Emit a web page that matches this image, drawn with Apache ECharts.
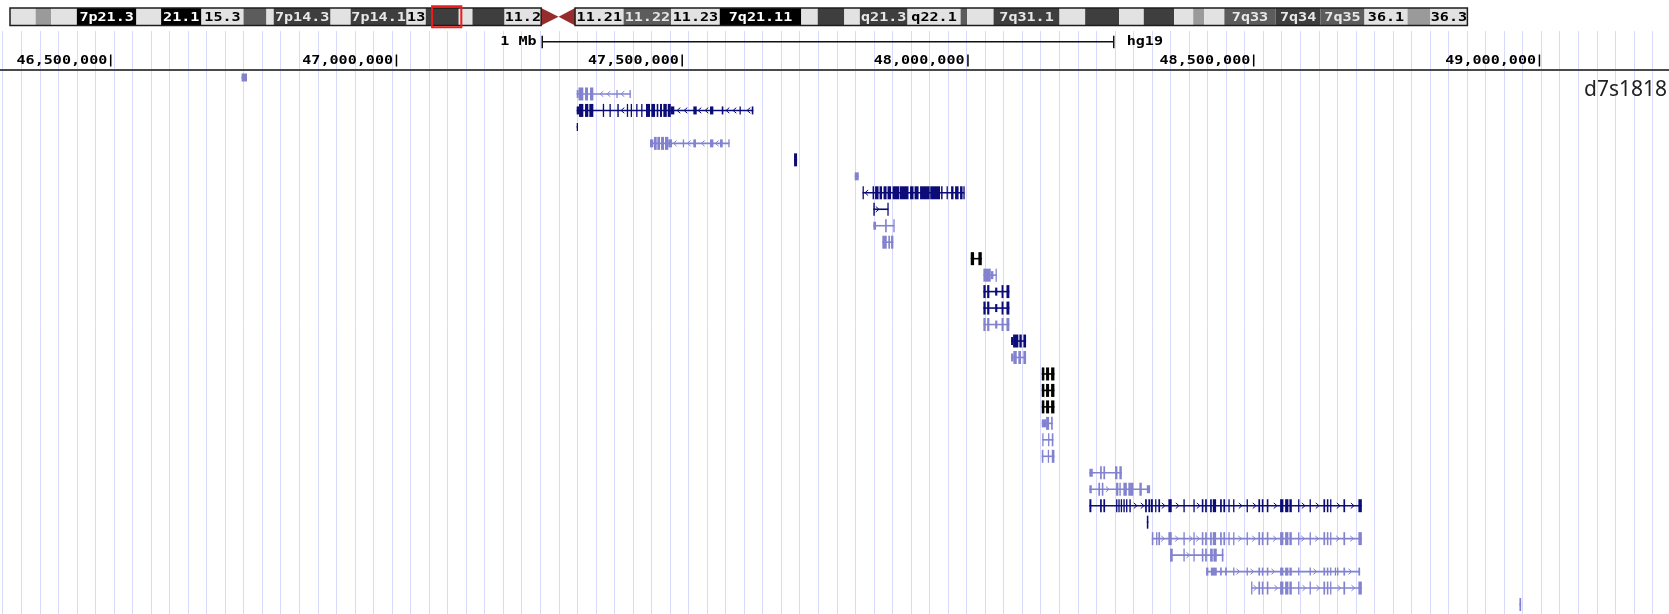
<!DOCTYPE html>
<html>
<head>
<meta charset="utf-8">
<title>chr7 p12.3 – d7s1818</title>
<script src="https://cdn.jsdelivr.net/npm/echarts@6/dist/echarts.min.js"></script>
<style>
  html, body { margin: 0; padding: 0; background: #ffffff; }
  #chart { width: 1669px; height: 614px; }
</style>
</head>
<body>
<div id="chart"></div>
<script>
// ---- View window (chr7, hg19) ----
const VIEW_START = 46306300;
const VIEW_END = 49226700;
const CHROM_LEN = 159138663;

// ---- Base-position ruler ----
const rulerTicks = [46500000, 47000000, 47500000, 48000000, 48500000, 49000000];
const scaleBar = [47255000, 48255000];
const scaleBarLabel = '1 Mb';
const assemblyLabel = 'hg19';
const GUIDE_START = 46311025;
const GUIDE_STEP = 32434;

// ---- Chromosome 7 cytobands (Mb) ----
const bandNames = ['p22.3','p22.2','p22.1','p21.3','p21.2','p21.1','p15.3','p15.2','p15.1','p14.3','p14.2','p14.1','p13','p12.3','p12.2','p12.1','p11.2','p11.1',
  'q11.1','q11.21','q11.22','q11.23','q21.11','q21.12','q21.13','q21.2','q21.3','q22.1','q22.2','q22.3','q31.1','q31.2','q31.31','q31.32','q31.33','q32.1','q32.2','q32.3','q33','q34','q35','q36.1','q36.2','q36.3'];
const bandStarts = [0, 2.8, 4.5, 7.3, 13.8, 16.5, 20.9, 25.5, 28.0, 28.8, 35.0, 37.2, 43.3, 45.4, 49.0, 50.5, 54.0, 58.0,
  59.9, 61.7, 67.0, 72.2, 77.5, 86.4, 88.2, 91.1, 92.8, 98.0, 103.8, 104.5, 107.4, 114.6, 117.4, 121.1, 123.8, 127.1, 129.2, 130.4, 132.6, 138.2, 143.1, 147.9, 152.6, 155.1];
const bandEnds = [2.8, 4.5, 7.3, 13.8, 16.5, 20.9, 25.5, 28.0, 28.8, 35.0, 37.2, 43.3, 45.4, 49.0, 50.5, 54.0, 58.0, 59.9,
  61.7, 67.0, 72.2, 77.5, 86.4, 88.2, 91.1, 92.8, 98.0, 103.8, 104.5, 107.4, 114.6, 117.4, 121.1, 123.8, 127.1, 129.2, 130.4, 132.6, 138.2, 143.1, 147.9, 152.6, 155.1, 159.138663];
const bandStains = ['gneg','gpos25','gneg','gpos100','gneg','gpos100','gneg','gpos50','gneg','gpos75','gneg','gpos75','gneg','gpos75','gneg','gpos75','gneg','acen',
  'acen','gneg','gpos50','gneg','gpos100','gneg','gpos75','gneg','gpos75','gneg','gpos50','gneg','gpos75','gneg','gpos75','gneg','gpos75','gneg','gpos25','gneg','gpos50','gpos75','gpos50','gneg','gpos25','gneg'];
const bandLabels = ['','','','7p21.3','','21.1','15.3','','','7p14.3','','7p14.1','13','','','','11.2','',
  '','11.21','11.22','11.23','7q21.11','','','','q21.3','q22.1','','','7q31.1','','','','','','','','7q33','7q34','7q35','36.1','','36.3'];

// ---- Gene models: exons as [start kb, end kb, coding(1)/untranslated(0)] ----
const smallA = [[46729.0, 46738.5, 0]];
const tns3Alt = [[47315.4,47318.6,0],[47318.6,47327.0,1],[47330.0,47335.2,1],[47338.7,47344.5,1],[47384.8,47386.5,0],[47407.8,47409.9,0]];
const tns3 = [[47315.4,47319.5,0],[47319.5,47327.0,1],[47330.0,47335.7,1],[47337.5,47344.5,1],[47361.1,47362.9,1],[47372.8,47374.6,1],
  [47386.5,47389.0,1],[47403.1,47404.9,1],[47409.9,47412.2,1],[47419.5,47421.3,1],[47428.2,47430.0,1],[47436.7,47443.7,1],[47446.0,47452.5,1],
  [47455.4,47458.2,1],[47461.2,47464.7,1],[47467.0,47473.0,1],[47474.7,47480.0,1],[47480.0,47486.2,0],[47519.5,47525.4,0],[47548.7,47554.5,0],
  [47569.2,47572.0,0],[47600.3,47602.1,0],[47621.7,47624.5,0]];
const tns3Short = [[47315.4,47317.2,0]];
const tns3Up = [[47443.7,47449.5,0],[47450.7,47455.4,1],[47456.5,47461.2,1],[47463.0,47468.2,1],[47469.9,47475.7,1],[47475.7,47482.2,0],
  [47501.1,47502.9,0],[47519.5,47524.2,0],[47548.7,47554.5,0],[47566.2,47570.9,0],[47580.7,47582.5,0]];
const locB = [[47695.7,47701.0,1]];
const locC = [[47801.9,47808.9,0]];
const pkd1l1 = [[47815.6,47817.7,1],[47833.1,47835.7,1],[47837.5,47843.6,1],[47845.3,47849.7,1],[47852.3,47857.6,1],[47859.3,47865.5,1],
  [47868.1,47880.0,1],[47881.0,47896.0,1],[47898.7,47904.8,1],[47906.6,47913.6,1],[47916.2,47933.0,1],[47934.0,47951.2,1],
  [47953.0,47955.6,1],[47962.6,47964.3,1],[47970.5,47974.7,1],[47977.5,47983.6,1],[47986.2,47990.6,1],[47992.0,47993.7,1]];
const locD = [[47834.5,47837.0,1],[47859.0,47860.7,1]];
const locDAlt1 = [[47834.5,47839.2,0],[47855.0,47857.9,1],[47869.5,47870.7,1]];
const locDAlt2 = [[47850.2,47857.9,1],[47860.7,47863.7,1],[47865.5,47869.5,1]];
const hus1 = [[48004.9,48010.7,1],[48018.3,48024.2,1]];
const sun3Alt = [[48027.0,48039.9,1],[48039.9,48044.5,0],[48048.3,48050.4,1]];
const sun3 = [[48027.0,48031.0,1],[48033.6,48037.5,1],[48047.6,48051.4,0],[48058.8,48062.2,1],[48067.4,48072.5,1]];
const c7orf57 = [[48075.5,48079.0,0],[48079.0,48088.2,1],[48090.0,48094.2,1],[48097.0,48101.7,1]];
const c7orf57Alt = [[48075.5,48079.5,0],[48079.5,48085.4,1],[48088.2,48092.9,1],[48097.0,48101.7,1]];
const upp1 = [[48129.2,48133.7,1],[48136.7,48142.0,1],[48145.5,48151.3,1]];
const upp1Alt1 = [[48129.2,48136.7,0],[48136.7,48142.0,1],[48145.5,48148.4,1]];
const upp1Alt2 = [[48130.0,48131.8,1],[48140.2,48142.0,1],[48146.7,48149.5,1]];
const upp1Alt3 = [[48129.2,48132.0,1],[48139.7,48141.4,1],[48146.7,48151.3,1]];
const abcaHead = [[48212.5,48216.0,1],[48231.2,48234.2,1],[48237.0,48240.0,1],[48259.2,48261.5,1],[48263.2,48265.0,1],[48267.4,48269.7,1],
  [48272.0,48274.4,1],[48276.7,48279.0,1],[48282.5,48284.9,1],[48310.0,48313.0,1],[48315.7,48318.7,1],[48320.0,48323.5,1],[48327.5,48329.2,1],
  [48333.2,48336.2,1],[48350.7,48356.6,1]];
const abcaMid = [[48377.0,48379.4,1],[48394.5,48396.2,1],[48409.2,48412.0,1],[48415.0,48418.0,1],[48423.7,48426.7,1],[48428.4,48434.2,1],
  [48441.2,48444.2,1],[48447.0,48450.0,1]];
const abcaTailA = [[48455.7,48457.5,1],[48464.0,48465.7,1],[48487.6,48489.3,1]];
const abcaTailB = [[48508.2,48511.2,1],[48514.2,48517.0,1],[48522.9,48525.7,1],[48546.2,48552.0,1],[48555.0,48560.7,1],[48562.5,48566.7,1],
  [48577.7,48579.5,1],[48597.8,48599.6,1],[48622.0,48625.0,1],[48628.0,48630.7,1],[48633.7,48635.5,1],[48657.0,48660.0,1],[48683.2,48689.2,1]];
const abcaAlt1 = [[48212.5,48218.4,0],[48231.2,48234.2,1],[48237.0,48240.0,1],[48257.5,48261.5,1],[48265.0,48269.2,1]];
const abcaAlt2 = [[48212.5,48216.7,0],[48228.2,48231.2,1],[48234.2,48237.0,1],[48259.2,48263.2,1],[48265.0,48267.4,1],[48272.0,48278.0,1],
  [48280.7,48283.7,1],[48283.7,48289.5,1],[48300.0,48304.2,1],[48313.0,48318.7,0]];
const abcaFrag = [[48313.0,48315.7,1]];
const abcaAlt3Head = [[48321.7,48324.5,1],[48329.2,48331.5,1],[48333.2,48336.2,1],[48350.7,48356.6,1]];
const abcaAlt4 = [[48353.7,48358.4,1],[48377.0,48379.4,1],[48394.5,48396.2,1],[48409.2,48412.0,1],[48415.0,48418.0,1],[48423.7,48428.4,1],
  [48429.5,48435.4,1],[48444.2,48447.0,1]];
const abcaAlt5 = [[48416.7,48420.7,0],[48425.0,48435.4,0],[48441.2,48444.2,0],[48450.0,48453.0,0],[48464.0,48465.7,0],[48487.6,48489.3,0],
  [48508.2,48511.2,0],[48514.2,48517.0,0],[48522.9,48525.7,0],[48546.2,48552.0,0],[48555.0,48560.7,0],[48562.5,48566.7,0],[48577.7,48579.5,0],
  [48597.8,48599.6,0],[48622.0,48625.0,0],[48628.0,48630.7,0],[48633.7,48635.5,0],[48641.9,48643.7,0],[48645.9,48647.7,0],[48657.0,48660.0,0],[48683.2,48686.2,0]];
const abcaAlt6Head = [[48495.5,48497.2,1]];
const locE = [[48965.0,48968.0,1]];

// One transcript per row: [row, strand, colour class, exons]
const transcripts = [
  [0, '+', 'light', smallA],
  [1, '-', 'light', tns3Alt],
  [2, '-', 'navy', tns3],
  [3, '-', 'navy', tns3Short],
  [4, '-', 'light', tns3Up],
  [5, '+', 'navy', locB],
  [6, '+', 'light', locC],
  [7, '-', 'navy', pkd1l1],
  [8, '+', 'navy', locD],
  [9, '+', 'light', locDAlt1],
  [10, '+', 'light', locDAlt2],
  [11, '-', 'black', hus1],
  [12, '-', 'light', sun3Alt],
  [13, '-', 'navy', sun3],
  [14, '-', 'navy', sun3],
  [15, '-', 'light', sun3],
  [16, '+', 'navy', c7orf57],
  [17, '+', 'light', c7orf57Alt],
  [18, '+', 'black', upp1],
  [19, '+', 'black', upp1],
  [20, '+', 'black', upp1],
  [21, '+', 'light', upp1Alt1],
  [22, '+', 'light', upp1Alt2],
  [23, '+', 'light', upp1Alt3],
  [24, '+', 'light', abcaAlt1],
  [25, '+', 'light', abcaAlt2],
  [26, '+', 'navy', abcaHead.concat(abcaMid, abcaTailA, abcaTailB)],
  [27, '+', 'navy', abcaFrag],
  [28, '+', 'light', abcaAlt3Head.concat(abcaMid, abcaTailA, abcaTailB)],
  [29, '+', 'light', abcaAlt4],
  [30, '+', 'light', abcaAlt5],
  [31, '+', 'light', abcaAlt6Head.concat(abcaTailB)],
  [32, '+', 'light', locE]
];

// ---- Styling ----
const GENE_COLORS = { navy: '#0c0c78', light: '#8282cf', black: '#000000' };
const STAIN_FILL = { gneg: '#e2e2e2', gpos25: '#9a9a9a', gpos50: '#5c5c5c', gpos75: '#3e3e3e', gpos100: '#000000' };
const STAIN_TEXT = { gneg: '#000000', gpos25: '#000000', gpos50: '#e8e8e8', gpos75: '#e8e8e8', gpos100: '#ffffff' };
const CEN_COLOR = '#962d2d';
const MONO = 'bold 13px "DejaVu Sans Mono"';
const MONO_STRETCH = 1.16;
const ROW_MIN = -0.455, ROW_MAX = 32.575;

function commas(v) { return String(v).replace(/\B(?=(\d{3})+(?!\d))/g, ','); }

function monoText(x, y, text, align, fill) {
  return {
    type: 'text', x: x, y: y, scaleX: MONO_STRETCH, silent: true,
    style: { x: 0, y: 0, text: text, font: MONO, fill: fill || '#000', textAlign: align, textVerticalAlign: 'middle' }
  };
}

// ---- Render functions ----
function renderBand(params, api) {
  const i = api.value(2);
  const cs = params.coordSys;
  const xa = api.coord([api.value(0), 0])[0];
  const xb = api.coord([api.value(1), 0])[0];
  const top = cs.y, h = cs.height, mid = top + h / 2;
  const stain = bandStains[i];
  if (stain === 'acen') {
    const pts = bandNames[i].charAt(0) === 'p'
      ? [[xa, top], [xb, mid], [xa, top + h]]
      : [[xb, top], [xa, mid], [xb, top + h]];
    return { type: 'polygon', shape: { points: pts }, style: { fill: CEN_COLOR } };
  }
  const children = [{ type: 'rect', shape: { x: xa, y: top, width: xb - xa, height: h }, style: { fill: STAIN_FILL[stain] } }];
  if (bandLabels[i]) children.push(monoText((xa + xb) / 2, mid + 0.5, bandLabels[i], 'center', STAIN_TEXT[stain]));
  return { type: 'group', children: children };
}

function renderArm(params, api) {
  const cs = params.coordSys;
  const xa = api.coord([api.value(0), 0])[0];
  const xb = api.coord([api.value(1), 0])[0];
  return { type: 'rect', shape: { x: xa, y: cs.y, width: xb - xa, height: cs.height },
    style: { fill: 'none', stroke: '#1c1c1c', lineWidth: 1.5 } };
}

function renderViewBox(params, api) {
  const cs = params.coordSys;
  const xa = api.coord([api.value(0), 0])[0];
  const xb = api.coord([api.value(1), 0])[0];
  return { type: 'rect', shape: { x: xa - 2, y: cs.y - 1.8, width: xb - xa + 2.5, height: cs.height + 3.6 },
    style: { fill: 'none', stroke: '#ee1c1c', lineWidth: 2 } };
}

function renderRulerTick(params, api) {
  const x = api.coord([api.value(0), 0])[0];
  const base = params.coordSys.y;
  return { type: 'group', children: [
    { type: 'rect', shape: { x: x - 0.75, y: base - 15.5, width: 1.5, height: 12 }, style: { fill: '#000' } },
    monoText(x - 3.4, base - 9.6, commas(api.value(0)), 'right')
  ] };
}

function renderScaleBar(params, api) {
  const xa = api.coord([api.value(0), 0])[0];
  const xb = api.coord([api.value(1), 0])[0];
  const y = params.coordSys.y - 28.3;
  return { type: 'group', children: [
    { type: 'rect', shape: { x: xa, y: y - 0.6, width: xb - xa, height: 1.3 }, style: { fill: '#111' } },
    { type: 'rect', shape: { x: xa - 0.7, y: y - 6, width: 1.5, height: 12.5 }, style: { fill: '#111' } },
    { type: 'rect', shape: { x: xb - 0.7, y: y - 6, width: 1.5, height: 12.5 }, style: { fill: '#111' } },
    monoText(xa - 5.6, y + 0.3, scaleBarLabel, 'right'),
    monoText(xb + 13, y + 0.3, assemblyLabel, 'left')
  ] };
}

function renderTranscript(params, api) {
  const t = transcripts[api.value(3)];
  const row = t[0], strand = t[1], color = GENE_COLORS[t[2]], exons = t[3];
  const yc = api.coord([VIEW_START, row])[1];
  const xs = exons.map(function (e) {
    return [api.coord([e[0] * 1000, row])[0], api.coord([e[1] * 1000, row])[0], e[2]];
  });
  const x0 = xs[0][0], x1 = xs[xs.length - 1][1];
  const children = [];
  if (x1 - x0 > 1) {
    children.push({ type: 'rect', shape: { x: x0, y: yc - 0.8, width: x1 - x0, height: 1.6 }, style: { fill: color } });
    const d = strand === '+' ? 1 : -1;
    for (let cx = x0 + 4; cx <= x1 - 4; cx += 7) {
      if (xs.some(function (e) { return cx > e[0] - 2.5 && cx < e[1] + 2.5; })) continue;
      children.push({ type: 'polyline',
        shape: { points: [[cx - 1.6 * d, yc - 2.8], [cx + 1.6 * d, yc], [cx - 1.6 * d, yc + 2.8]] },
        style: { stroke: color, fill: null, lineWidth: 1 } });
    }
  }
  xs.forEach(function (e) {
    const h = e[2] ? 13 : 8;
    const w = Math.max(e[1] - e[0], 1.3);
    children.push({ type: 'rect', shape: { x: e[0], y: yc - h / 2, width: w, height: h }, style: { fill: color } });
  });
  return { type: 'group', children: children };
}

// ---- Chart ----
const chart = echarts.init(document.getElementById('chart'), null, { renderer: 'canvas' });
const W = 1669;
const guideLeft = (GUIDE_START - VIEW_START) / (VIEW_END - VIEW_START) * W;
const armData = [
  [0, bandStarts[bandStains.indexOf('acen')] * 1e6],
  [bandEnds[bandStains.lastIndexOf('acen')] * 1e6, CHROM_LEN]
];

chart.setOption({
  animation: false,
  backgroundColor: '#ffffff',
  title: {
    text: 'd7s1818', right: 2, top: 80, padding: 0,
    textStyle: { fontFamily: '"Noto Sans"', fontSize: 21, fontWeight: 'normal', color: '#222' }
  },
  grid: [
    { left: 10, width: 1457.4, top: 8, height: 17.5 },
    { left: 0, right: 0, top: 70, bottom: 0 },
    { left: guideLeft, right: 0, top: 31, bottom: 0 }
  ],
  xAxis: [
    { gridIndex: 0, type: 'value', min: 0, max: CHROM_LEN, show: false },
    { gridIndex: 1, type: 'value', min: VIEW_START, max: VIEW_END, position: 'top', z: 3,
      axisLine: { show: true, onZero: false, lineStyle: { color: '#4a4a4a', width: 2 } },
      axisTick: { show: false }, axisLabel: { show: false }, splitLine: { show: false } },
    { gridIndex: 2, type: 'value', min: 0, max: VIEW_END - GUIDE_START, interval: GUIDE_STEP, z: 0,
      axisLine: { show: false }, axisTick: { show: false }, axisLabel: { show: false },
      splitLine: { show: true, lineStyle: { color: '#d9d9fb', width: 1 } } }
  ],
  yAxis: [
    { gridIndex: 0, type: 'value', min: 0, max: 1, show: false },
    { gridIndex: 1, type: 'value', min: ROW_MIN, max: ROW_MAX, inverse: true, show: false },
    { gridIndex: 2, type: 'value', min: 0, max: 1, show: false }
  ],
  series: [
    { type: 'custom', name: 'bands', xAxisIndex: 0, yAxisIndex: 0, clip: false, silent: true,
      renderItem: renderBand, encode: { x: [0, 1] },
      data: bandStarts.map(function (s, i) { return [s * 1e6, bandEnds[i] * 1e6, i]; }) },
    { type: 'custom', name: 'arms', xAxisIndex: 0, yAxisIndex: 0, clip: false, silent: true,
      renderItem: renderArm, encode: { x: [0, 1] }, data: armData },
    { type: 'custom', name: 'view', xAxisIndex: 0, yAxisIndex: 0, clip: false, silent: true, z: 5,
      renderItem: renderViewBox, encode: { x: [0, 1] }, data: [[VIEW_START, VIEW_END]] },
    { type: 'custom', name: 'ruler', xAxisIndex: 1, yAxisIndex: 1, clip: false, silent: true,
      renderItem: renderRulerTick, encode: { x: 0 }, data: rulerTicks.map(function (v) { return [v]; }) },
    { type: 'custom', name: 'scale', xAxisIndex: 1, yAxisIndex: 1, clip: false, silent: true,
      renderItem: renderScaleBar, encode: { x: [0, 1] }, data: [scaleBar] },
    { type: 'custom', name: 'genes', xAxisIndex: 1, yAxisIndex: 1, clip: false, silent: true,
      renderItem: renderTranscript, encode: { x: [0, 2], y: 1 },
      data: transcripts.map(function (t, i) {
        const ex = t[3];
        return [ex[0][0] * 1000, t[0], ex[ex.length - 1][1] * 1000, i];
      }) }
  ]
});
</script>
</body>
</html>
